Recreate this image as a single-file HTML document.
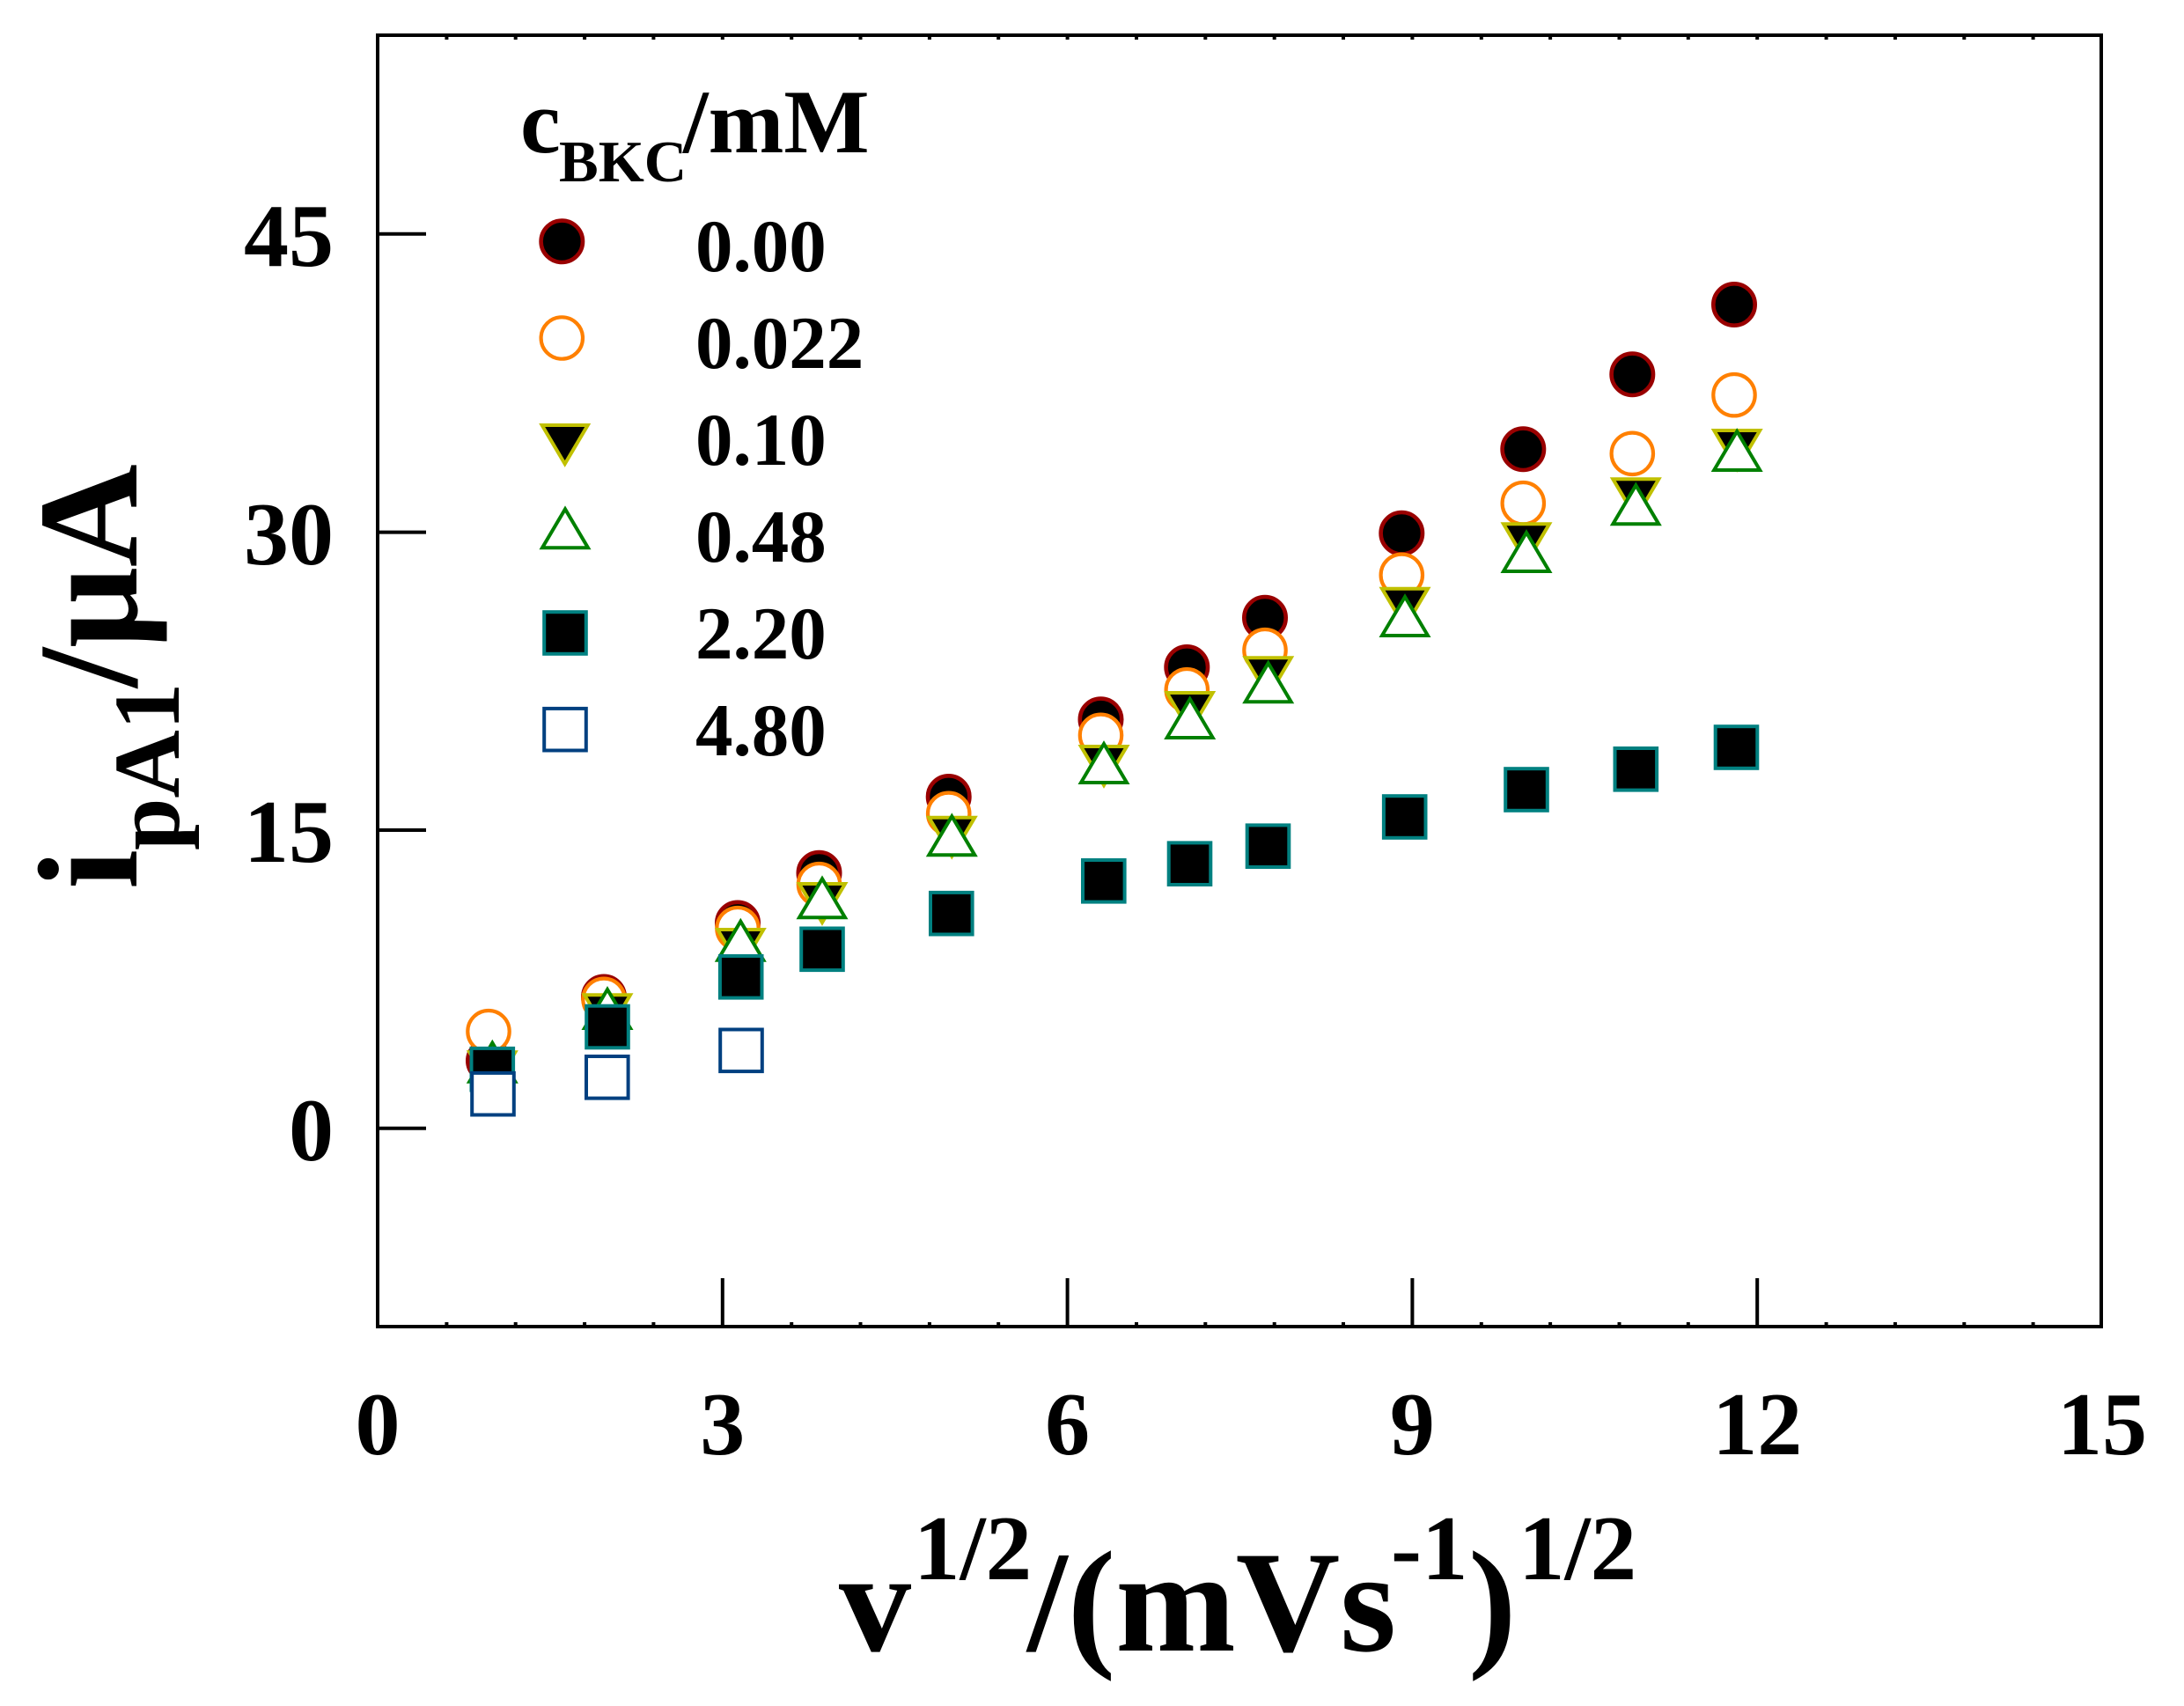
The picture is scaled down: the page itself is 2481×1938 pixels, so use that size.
<!DOCTYPE html>
<html>
<head>
<meta charset="utf-8">
<style>
html,body{margin:0;padding:0;background:#fff;}
svg{display:block;}
text{font-family:"Liberation Serif","Times New Roman",serif;font-weight:bold;fill:#000;}
</style>
</head>
<body>
<svg xmlns="http://www.w3.org/2000/svg" width="2481" height="1938" viewBox="0 0 2481 1938">
<rect x="0" y="0" width="2481" height="1938" fill="#fff"/>

<!-- plot frame -->
<rect x="429" y="40" width="1958" height="1467" fill="none" stroke="#000" stroke-width="4"/>

<!-- y major ticks -->
<g stroke="#000" stroke-width="4">
<line x1="429" y1="1281.7" x2="484" y2="1281.7"/>
<line x1="429" y1="943" x2="484" y2="943"/>
<line x1="429" y1="604.6" x2="484" y2="604.6"/>
<line x1="429" y1="265.7" x2="484" y2="265.7"/>
<!-- x major ticks -->
<line x1="820.8" y1="1507" x2="820.8" y2="1452"/>
<line x1="1212.6" y1="1507" x2="1212.6" y2="1452"/>
<line x1="1604.4" y1="1507" x2="1604.4" y2="1452"/>
<line x1="1996.2" y1="1507" x2="1996.2" y2="1452"/>
</g>
<!-- minor ticks bottom & top -->
<g stroke="#000" stroke-width="4">
<line x1="507.4" y1="1507" x2="507.4" y2="1502"/><line x1="585.7" y1="1507" x2="585.7" y2="1502"/><line x1="664.1" y1="1507" x2="664.1" y2="1502"/><line x1="742.4" y1="1507" x2="742.4" y2="1502"/>
<line x1="899.2" y1="1507" x2="899.2" y2="1502"/><line x1="977.5" y1="1507" x2="977.5" y2="1502"/><line x1="1055.9" y1="1507" x2="1055.9" y2="1502"/><line x1="1134.2" y1="1507" x2="1134.2" y2="1502"/>
<line x1="1291" y1="1507" x2="1291" y2="1502"/><line x1="1369.3" y1="1507" x2="1369.3" y2="1502"/><line x1="1447.7" y1="1507" x2="1447.7" y2="1502"/><line x1="1526" y1="1507" x2="1526" y2="1502"/>
<line x1="1682.8" y1="1507" x2="1682.8" y2="1502"/><line x1="1761.1" y1="1507" x2="1761.1" y2="1502"/><line x1="1839.5" y1="1507" x2="1839.5" y2="1502"/><line x1="1917.8" y1="1507" x2="1917.8" y2="1502"/>
<line x1="2074.6" y1="1507" x2="2074.6" y2="1502"/><line x1="2152.9" y1="1507" x2="2152.9" y2="1502"/><line x1="2231.3" y1="1507" x2="2231.3" y2="1502"/><line x1="2309.6" y1="1507" x2="2309.6" y2="1502"/>

<line x1="507.4" y1="40" x2="507.4" y2="45"/><line x1="585.7" y1="40" x2="585.7" y2="45"/><line x1="664.1" y1="40" x2="664.1" y2="45"/><line x1="742.4" y1="40" x2="742.4" y2="45"/><line x1="820.8" y1="40" x2="820.8" y2="45"/>
<line x1="899.2" y1="40" x2="899.2" y2="45"/><line x1="977.5" y1="40" x2="977.5" y2="45"/><line x1="1055.9" y1="40" x2="1055.9" y2="45"/><line x1="1134.2" y1="40" x2="1134.2" y2="45"/><line x1="1212.6" y1="40" x2="1212.6" y2="45"/>
<line x1="1291" y1="40" x2="1291" y2="45"/><line x1="1369.3" y1="40" x2="1369.3" y2="45"/><line x1="1447.7" y1="40" x2="1447.7" y2="45"/><line x1="1526" y1="40" x2="1526" y2="45"/><line x1="1604.4" y1="40" x2="1604.4" y2="45"/>
<line x1="1682.8" y1="40" x2="1682.8" y2="45"/><line x1="1761.1" y1="40" x2="1761.1" y2="45"/><line x1="1839.5" y1="40" x2="1839.5" y2="45"/><line x1="1917.8" y1="40" x2="1917.8" y2="45"/><line x1="1996.2" y1="40" x2="1996.2" y2="45"/>
<line x1="2074.6" y1="40" x2="2074.6" y2="45"/><line x1="2152.9" y1="40" x2="2152.9" y2="45"/><line x1="2231.3" y1="40" x2="2231.3" y2="45"/><line x1="2309.6" y1="40" x2="2309.6" y2="45"/>
</g>

<!-- y tick labels -->
<g font-size="102" text-anchor="end">
<text x="379" y="1318">0</text>
<text x="379" y="979">15</text>
<text x="379" y="641">30</text>
<text x="379" y="302">45</text>
</g>
<!-- x tick labels -->
<g font-size="102" text-anchor="middle">
<text x="429" y="1652">0</text>
<text x="820.8" y="1652">3</text>
<text x="1212.6" y="1652">6</text>
<text x="1604.4" y="1652">9</text>
<text x="1996.2" y="1652">12</text>
<text x="2388" y="1652">15</text>
</g>

<!-- y axis title -->
<text transform="translate(155,1010) rotate(-90)" font-size="162"><tspan x="0" y="0">i</tspan><tspan x="44" y="48" font-size="107">pA1</tspan><tspan x="229" y="0">/μA</tspan></text>

<!-- x axis title -->
<text font-size="164"><tspan x="953" y="1875">v</tspan><tspan x="1038" y="1794" font-size="105">1/2</tspan><tspan x="1167" y="1875">/(mVs</tspan><tspan x="1580" y="1794" font-size="105">-1</tspan><tspan x="1668" y="1875">)</tspan><tspan x="1725" y="1794" font-size="105">1/2</tspan></text>

<!-- legend title -->
<text font-size="103"><tspan x="591" y="173">c</tspan><tspan x="635" y="206" font-size="67">BKC</tspan><tspan x="776" y="173">/mM</tspan></text>

<!-- legend entries -->
<g font-size="85">
<text x="790" y="308">0.00</text>
<text x="790" y="418">0.022</text>
<text x="790" y="528">0.10</text>
<text x="790" y="638">0.48</text>
<text x="790" y="748">2.20</text>
<text x="790" y="858">4.80</text>
</g>
<circle cx="638.3" cy="274.3" r="23.7" fill="#000" stroke="#990000" stroke-width="4.6"/>
<circle cx="638.3" cy="384" r="23.7" fill="#fff" stroke="#ff8000" stroke-width="4.2"/>
<path d="M615.7,483 L667.7,483 L641.7,527 Z" fill="#000" stroke="#c0c000" stroke-width="4"/>
<path d="M642,578.3 L668,622.3 L616,622.3 Z" fill="#fff" stroke="#008000" stroke-width="4"/>
<rect x="618.2" y="695.2" width="47.6" height="47.6" fill="#000" stroke="#008080" stroke-width="4"/>
<rect x="618.2" y="804.9" width="47.6" height="47.6" fill="#fff" stroke="#004080" stroke-width="4"/>

<!-- Series A: 0.00 -->
<g fill="#000" stroke="#990000" stroke-width="4.6">
<circle cx="555" cy="1205" r="23.7"/>
<circle cx="686" cy="1132.5" r="23.7"/>
<circle cx="838" cy="1048.5" r="23.7"/>
<circle cx="930.5" cy="991.7" r="23.7"/>
<circle cx="1077.7" cy="905" r="23.7"/>
<circle cx="1250.5" cy="817.3" r="23.7"/>
<circle cx="1348.3" cy="758" r="23.7"/>
<circle cx="1437" cy="701.7" r="23.7"/>
<circle cx="1592.3" cy="605.7" r="23.7"/>
<circle cx="1730.3" cy="510.3" r="23.7"/>
<circle cx="1854.3" cy="425.3" r="23.7"/>
<circle cx="1970" cy="346" r="23.7"/>
</g>
<!-- Series B: 0.022 -->
<g fill="#fff" stroke="#ff8000" stroke-width="4.2">
<circle cx="555" cy="1171.7" r="23.7"/>
<circle cx="686" cy="1135.3" r="23.7"/>
<circle cx="838" cy="1054.7" r="23.7"/>
<circle cx="930.5" cy="1004.7" r="23.7"/>
<circle cx="1077.7" cy="924.3" r="23.7"/>
<circle cx="1250.5" cy="835.3" r="23.7"/>
<circle cx="1348.3" cy="783.7" r="23.7"/>
<circle cx="1437" cy="738.7" r="23.7"/>
<circle cx="1592.3" cy="653.3" r="23.7"/>
<circle cx="1730.3" cy="571.7" r="23.7"/>
<circle cx="1854.3" cy="515.3" r="23.7"/>
<circle cx="1970" cy="448.7" r="23.7"/>
</g>
<!-- Series C: 0.10 (down triangles) -->
<g fill="#000" stroke="#c0c000" stroke-width="4">
<path d="M533.3,1195.3 L585.3,1195.3 L559.3,1239.3 Z"/>
<path d="M664,1130.3 L716,1130.3 L690,1174.3 Z"/>
<path d="M815.3,1056 L867.3,1056 L841.3,1100 Z"/>
<path d="M908,1004 L960,1004 L934,1048 Z"/>
<path d="M1055.3,928.7 L1107.3,928.7 L1081.3,972.7 Z"/>
<path d="M1228,848 L1280,848 L1254,892 Z"/>
<path d="M1325.7,787 L1377.7,787 L1351.7,831 Z"/>
<path d="M1414.7,747.3 L1466.7,747.3 L1440.7,791.3 Z"/>
<path d="M1570,668.7 L1622,668.7 L1596,712.7 Z"/>
<path d="M1708,595.3 L1760,595.3 L1734,639.3 Z"/>
<path d="M1832.3,544.3 L1884.3,544.3 L1858.3,588.3 Z"/>
<path d="M1947.2,489 L1999.2,489 L1973.2,533 Z"/>
</g>
<!-- Series D: 0.48 (up triangles) -->
<g fill="#fff" stroke="#008000" stroke-width="4">
<path d="M559.3,1184.7 L585.3,1228.7 L533.3,1228.7 Z"/>
<path d="M690,1124 L716,1168 L664,1168 Z"/>
<path d="M841.3,1046.7 L867.3,1090.7 L815.3,1090.7 Z"/>
<path d="M934,998.3 L960,1042.3 L908,1042.3 Z"/>
<path d="M1081.3,927.3 L1107.3,971.3 L1055.3,971.3 Z"/>
<path d="M1254,845 L1280,889 L1228,889 Z"/>
<path d="M1351.7,794 L1377.7,838 L1325.7,838 Z"/>
<path d="M1440.7,753.3 L1466.7,797.3 L1414.7,797.3 Z"/>
<path d="M1596,678 L1622,722 L1570,722 Z"/>
<path d="M1734,605 L1760,649 L1708,649 Z"/>
<path d="M1858.3,551.3 L1884.3,595.3 L1832.3,595.3 Z"/>
<path d="M1973.2,490 L1999.2,534 L1947.2,534 Z"/>
</g>
<!-- Series E: 2.20 (filled squares) -->
<g fill="#000" stroke="#008080" stroke-width="4">
<rect x="535.5" y="1190.9" width="47.6" height="47.6"/>
<rect x="666.2" y="1142.7" width="47.6" height="47.6"/>
<rect x="817.9" y="1086" width="47.6" height="47.6"/>
<rect x="910.2" y="1054.5" width="47.6" height="47.6"/>
<rect x="1057" y="1013.9" width="47.6" height="47.6"/>
<rect x="1230" y="977" width="47.6" height="47.6"/>
<rect x="1327.7" y="957.4" width="47.6" height="47.6"/>
<rect x="1416.7" y="937.4" width="47.6" height="47.6"/>
<rect x="1571.9" y="904.2" width="47.6" height="47.6"/>
<rect x="1710.2" y="873.2" width="47.6" height="47.6"/>
<rect x="1834.5" y="850" width="47.6" height="47.6"/>
<rect x="1948.7" y="825.2" width="47.6" height="47.6"/>
</g>
<!-- Series F: 4.80 (open squares) -->
<g fill="#fff" stroke="#004080" stroke-width="4">
<rect x="536.2" y="1218.9" width="47.6" height="47.6"/>
<rect x="666" y="1200" width="47.6" height="47.6"/>
<rect x="818.2" y="1169.5" width="47.6" height="47.6"/>
</g>
</svg>
</body>
</html>
